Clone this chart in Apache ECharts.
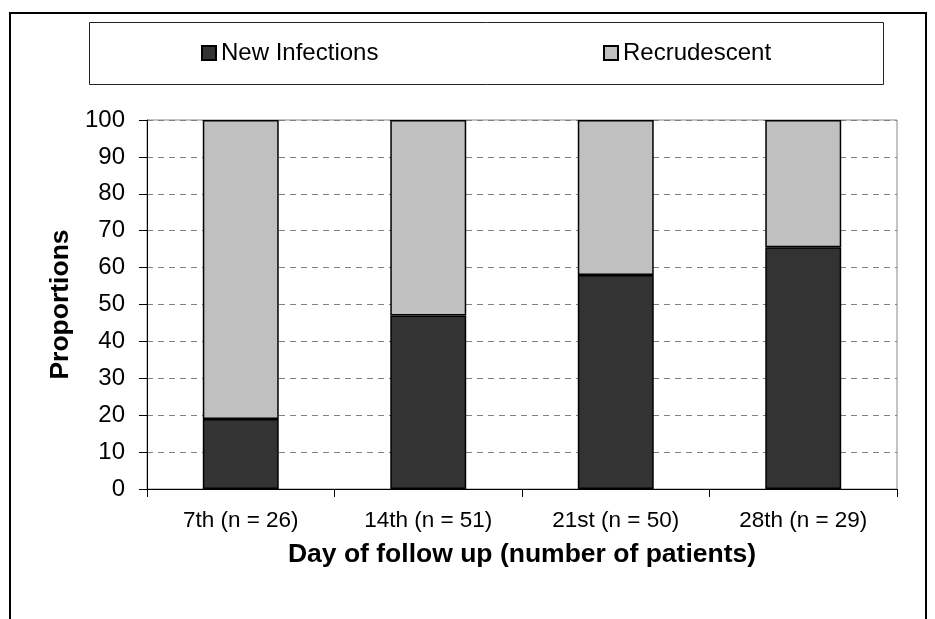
<!DOCTYPE html>
<html>
<head>
<meta charset="utf-8">
<script src="https://cdn.jsdelivr.net/npm/echarts@6/dist/echarts.min.js"></script>
<style>
  html, body { margin: 0; padding: 0; background: #fff; }
  #chart { width: 935px; height: 619px; }
</style>
</head>
<body>
<div id="chart"></div>
<script>
const categories = ["7th (n = 26)", "14th (n = 51)", "21st (n = 50)", "28th (n = 29)"];
const newInfections = [19, 47, 58, 65.5];
const recrudescent = [81, 53, 42, 34.5];
const yTicks = [0, 100, 10]; // min, max, interval

const font = "Liberation Sans, Arial, sans-serif";

const chart = echarts.init(document.getElementById("chart"));

const option = {
  backgroundColor: "#fff",
  animation: false,
  graphic: [
    {
      type: "rect",
      shape: { x: 10, y: 13, width: 916, height: 700 },
      style: { fill: "none", stroke: "#000", lineWidth: 2 },
    },
    {
      type: "rect",
      shape: { x: 89.5, y: 22.5, width: 794, height: 62 },
      style: { fill: "none", stroke: "#222", lineWidth: 1 },
    },
  ],
  legend: [
    {
      data: ["New Infections"],
      left: 201,
      top: 41,
      padding: 0,
      icon: "rect",
      itemWidth: 14,
      itemHeight: 14,
      itemGap: 8,
      textStyle: { fontFamily: font, fontSize: 24, color: "#000" },
    },
    {
      data: ["Recrudescent"],
      left: 603,
      top: 41,
      padding: 0,
      icon: "rect",
      itemWidth: 14,
      itemHeight: 14,
      textStyle: { fontFamily: font, fontSize: 24, color: "#000" },
    },
  ],
  grid: {
    left: 147,
    right: 38,
    top: 120,
    bottom: 130,
    show: true,
    borderColor: "#888",
    borderWidth: 1,
  },
  xAxis: {
    type: "category",
    data: categories,
    boundaryGap: true,
    name: "Day of follow up (number of patients)",
    nameLocation: "middle",
    nameGap: 52,
    nameTextStyle: { fontFamily: font, fontSize: 26.5, fontWeight: "bold", color: "#000" },
    axisLine: { lineStyle: { color: "#000", width: 1 } },
    axisTick: { show: true, interval: 0, length: 8, lineStyle: { color: "#000" } },
    axisLabel: { fontFamily: font, fontSize: 22.5, color: "#000", margin: 20 },
    splitLine: { show: false },
  },
  yAxis: {
    type: "value",
    min: yTicks[0],
    max: yTicks[1],
    interval: yTicks[2],
    name: "Proportions",
    nameLocation: "middle",
    nameGap: 72,
    nameTextStyle: { fontFamily: font, fontSize: 26.5, fontWeight: "bold", color: "#000" },
    axisLine: { show: true, lineStyle: { color: "#000", width: 1 } },
    axisTick: { show: true, length: 8, lineStyle: { color: "#000" } },
    axisLabel: { fontFamily: font, fontSize: 24, color: "#000", margin: 22 },
    splitLine: { show: true, lineStyle: { color: "#808080", type: [6, 5], width: 1 } },
  },
  series: [
    {
      name: "New Infections",
      type: "bar",
      stack: "total",
      data: newInfections,
      barWidth: "40.5%",
      itemStyle: { color: "#333333", borderColor: "#000", borderWidth: 1.5 },
    },
    {
      name: "Recrudescent",
      type: "bar",
      stack: "total",
      data: recrudescent,
      barWidth: "40.5%",
      itemStyle: { color: "#c0c0c0", borderColor: "#000", borderWidth: 1.5 },
    },
  ],
};

chart.setOption(option);
</script>
</body>
</html>
